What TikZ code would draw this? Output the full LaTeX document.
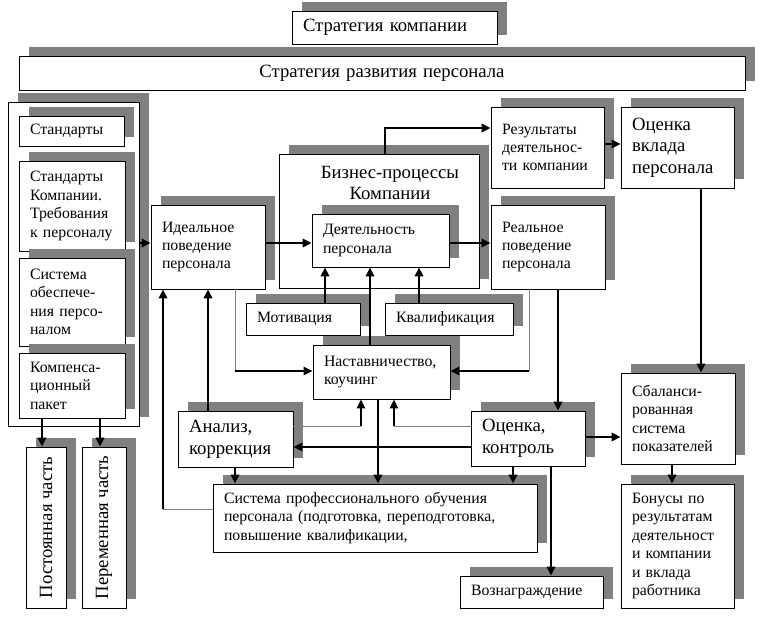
\documentclass[tikz,border=0pt]{standalone}
\usepackage{fontspec}
\setmainfont{Liberation Serif}
\usetikzlibrary{arrows.meta,shadows}
\definecolor{shgray}{RGB}{128,128,128}
\newcommand{\txs}{\fontsize{15.8pt}{18.4pt}\selectfont}
\newcommand{\txl}{\fontsize{18.7pt}{21.7pt}\selectfont}
\begin{document}
\begin{tikzpicture}[x=1pt,y=-1pt,
  box/.style={draw, fill=white, line width=0.9pt, inner xsep=11pt, inner ysep=0pt,
    align=left, font=\txs,
    drop shadow={shadow xshift=9.5pt,shadow yshift=9.5pt,fill=shgray,opacity=1}},
  big/.style={font=\txl},
  arr/.style={line width=1.8pt, -{Triangle[length=9pt,width=8.5pt]}},
  arrm/.style={line width=1.3pt, -{Triangle[length=9pt,width=8.5pt]}},
  gline/.style={draw=shgray, line width=0.8pt}]
\useasboundingbox (0,0) rectangle (760,616);

% top
\node[box, big, align=center, minimum height=34pt, text width=704pt] (razv) at (382,73) {Стратегия развития персонала};
\node[box, big, minimum height=33pt, text width=183pt] (strat) at (394.5,27.5) {Стратегия компании};

% left column
\node[box, minimum width=131pt, minimum height=324pt] (lc) at (73.5,264) {};
\node[box, minimum height=30pt, text width=83pt] (std) at (71.5,131) {Стандарты};
\node[box, minimum height=90pt, text width=84pt] (stdk) at (72,206) {Стандарты\\Компании.\\Требования\\к персоналу};
\node[box, minimum height=88pt, text width=84pt] (sys) at (72,302) {Система\\обеспече-\\ния персо-\\налом};
\node[box, minimum height=65pt, text width=84pt] (komp) at (72,385.5) {Компенса-\\ционный\\пакет};
\node[box, big, inner xsep=0pt, minimum width=40pt, minimum height=161pt] (post) at (46,527.5) {\rotatebox{90}{Постоянная часть}};
\node[box, big, inner xsep=0pt, minimum width=44pt, minimum height=161pt] (perem) at (104,527.5) {\rotatebox{90}{Переменная часть}};

% middle
\node[box, minimum height=84pt, text width=92pt] (ideal) at (208,247) {Идеальное\\поведение\\персонала};
\node[box, minimum width=200pt, minimum height=134pt] (biz) at (379,221) {};
\node[font=\txl, align=center, inner sep=0pt] (bizt) at (390,183) {Бизнес-процессы\\Компании};
\node[box, minimum height=53pt, text width=115pt] (deyat) at (380.5,240.5) {Деятельность\\персонала};
\node[box, minimum height=84pt, text width=92pt] (real) at (548,247) {Реальное\\поведение\\персонала};
\node[box, minimum height=54pt, text width=115pt] (nast) at (381.5,372) {Наставничество,\\коучинг};
\node[box, minimum height=32pt, text width=92pt] (motiv) at (303,319) {Мотивация};
\node[box, minimum height=32pt, text width=106pt] (kval) at (449,319) {Квалификация};
\node[box, big, minimum height=56pt, text width=93pt] (analiz) at (235.5,439) {Анализ,\\коррекция};
\node[box, big, minimum height=55pt, text width=92pt] (ocenka) at (528,438.5) {Оценка,\\контроль};
\node[box, minimum height=68pt, text width=302pt] (sysob) at (375,518) {Система профессионального обучения\\персонала (подготовка, переподготовка,\\повышение квалификации,};
\node[box, minimum height=32pt, text width=121pt] (voz) at (531.5,592) {Вознаграждение};

% right
\node[box, minimum height=81pt, text width=91pt] (rez) at (547.5,147.5) {Результаты\\деятельнос-\\ти компании};
\node[box, big, minimum height=81pt, text width=91pt] (ocvk) at (677.5,147.5) {Оценка\\вклада\\персонала};
\node[box, minimum height=91pt, text width=92pt] (sbal) at (678,418.5) {Сбаланси-\\рованная\\система\\показателей};
\node[box, minimum height=124pt, text width=91pt] (bonus) at (677.5,546) {Бонусы по\\результатам\\деятельност\\и компании\\и вклада\\работника};

% connectors
\draw[arr] (lc.east |- 0,243) -- (ideal.west |- 0,243);
\draw[arr] (ideal.east |- 0,243) -- (deyat.west |- 0,243);
\draw[arr] (deyat.east |- 0,243) -- (real.west |- 0,243);
\draw[arr] (motiv.north -| 325,0) -- (deyat.south -| 325,0);
\draw[arr] (kval.north -| 419,0) -- (deyat.south -| 419,0);
\draw[arr] (nast.north -| 370,0) -- (deyat.south -| 370,0);
\draw[arr] (biz.north -| 385,0) |- (rez.west |- 0,128);
\draw[arr] (rez.east |- 0,144) -- (ocvk.west |- 0,144);
\draw[arr] (ocvk.south -| 701,0) -- (sbal.north -| 701,0);
\draw[arr] (real.south -| 558,0) -- (ocenka.north -| 558,0);
\draw[arr] (ocenka.east |- 0,437) -- (sbal.west |- 0,437);
\draw[arr] (sbal.south -| 672,0) -- (bonus.north -| 672,0);
\draw[arr] (ocenka.south -| 551,0) -- (voz.north -| 551,0);
\draw[arr] (ocenka.south -| 513,0) -- (sysob.north -| 513,0);
\draw[arr] (nast.south -| 378,0) -- (sysob.north -| 378,0);
\draw[arr] (analiz.south -| 235,0) -- (sysob.north -| 235,0);
\draw[arr] (ocenka.west |- 0,447) -- (analiz.east |- 0,447);
\draw[arr] (analiz.north -| 208,0) -- (ideal.south -| 208,0);
\draw[arr] (komp.south -| 42,0) -- (post.north -| 42,0);
\draw[arr] (komp.south -| 100,0) -- (perem.north -| 100,0);

\coordinate (c1) at (163,509);
\draw[gline] (sysob.west |- c1) -- (c1);
\draw[arr] (c1) -- (ideal.south -| c1);
\coordinate (c2) at (235,371);
\draw[gline] (ideal.south -| c2) -- (c2);
\draw[arrm] (c2) -- (nast.west |- c2);
\coordinate (c3) at (529,371);
\draw[gline] (real.south -| c3) -- (c3);
\draw[arrm] (c3) -- (nast.east |- c3);
\coordinate (c4) at (361,426);
\draw[gline] (analiz.east |- c4) -- (c4);
\draw[arrm] (c4) -- (nast.south -| c4);
\coordinate (c5) at (394,426);
\draw[gline] (ocenka.west |- c5) -- (c5);
\draw[arrm] (c5) -- (nast.south -| c5);
\end{tikzpicture}
\end{document}
